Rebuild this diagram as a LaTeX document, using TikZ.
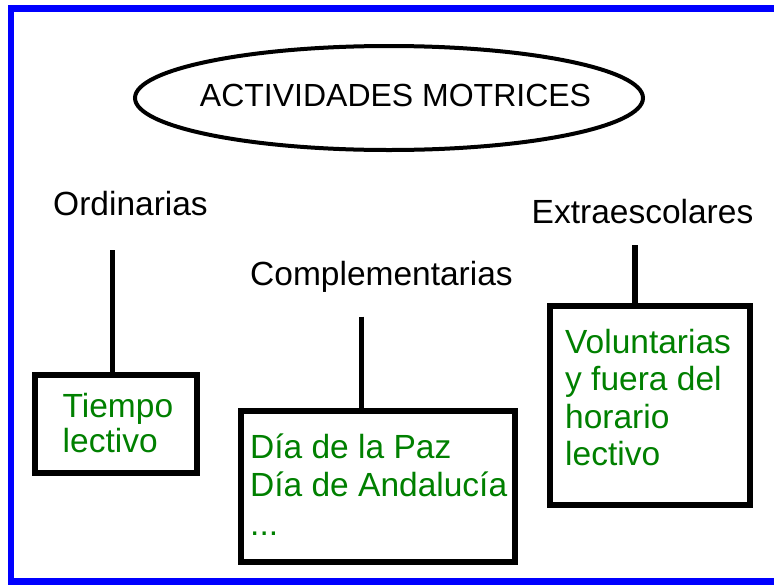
\documentclass[tikz,border=0pt]{standalone}
\usepackage{fontspec}
\setmainfont{Liberation Sans}
\usetikzlibrary{shapes.geometric}
\definecolor{boxgreen}{RGB}{0,128,0}
\definecolor{frameblue}{RGB}{0,0,255}
\tikzset{
  lbl/.style={font=\fontsize{33.5}{38}\selectfont, inner sep=0pt, anchor=base},
  greentext/.style={font=\fontsize{33.5}{#1}\selectfont, text=boxgreen, align=left, inner sep=0pt, anchor=base west},
  framebox/.style={draw, line width=6pt, rectangle, inner sep=0pt},
  link/.style={line width=5.5pt}
}
\begin{document}
\begin{tikzpicture}[x=1pt,y=-1pt]
\useasboundingbox (0,0) rectangle (774,584);
\clip (0,0) rectangle (774,584);
\fill[white] (0,0) rectangle (774,584);
\draw[frameblue, line width=6.5pt] (11,8.5) rectangle (785,581.5);

\node[ellipse, draw, line width=4pt, minimum width=508pt, minimum height=104pt, inner sep=0pt,
      font=\fontsize{32}{38}\selectfont] (title) at (389,98)
      {\makebox[0pt]{\hspace{13pt}\raisebox{4.5pt}{ACTIVIDADES MOTRICES}}};

\node[lbl] (ord) at (130.5,215) {Ordinarias};
\node[lbl] (comp) at (381.5,285) {Complementarias};
\node[lbl] (extra) at (642.5,223) {Extraescolares};

\node[framebox, minimum width=162pt, minimum height=98pt] (tbox) at (116,424) {};
\node[framebox, minimum width=274pt, minimum height=151pt] (cbox) at (378,486.5) {};
\node[framebox, minimum width=200pt, minimum height=199pt] (ebox) at (650,405.5) {};

% anchor = baseline of the last line
\node[greentext=35] (ttext) at (62.5,452) {Tiempo\\lectivo};
\node[greentext=38.5] (ctext) at (250,535) {Día de la Paz\\Día de Andalucía\\...};
\node[greentext=37.5] (etext) at (565,465.8) {Voluntarias\\y fuera del\\horario\\lectivo};

\coordinate (c1) at (112.7,250);
\coordinate (c2) at (361.7,316.7);
\coordinate (c3) at (635,245);
\draw[link] (c1) -- (c1 |- tbox.north);
\draw[link] (c2) -- (c2 |- cbox.north);
\draw[link] (c3) -- (c3 |- ebox.north);
\end{tikzpicture}
\end{document}
